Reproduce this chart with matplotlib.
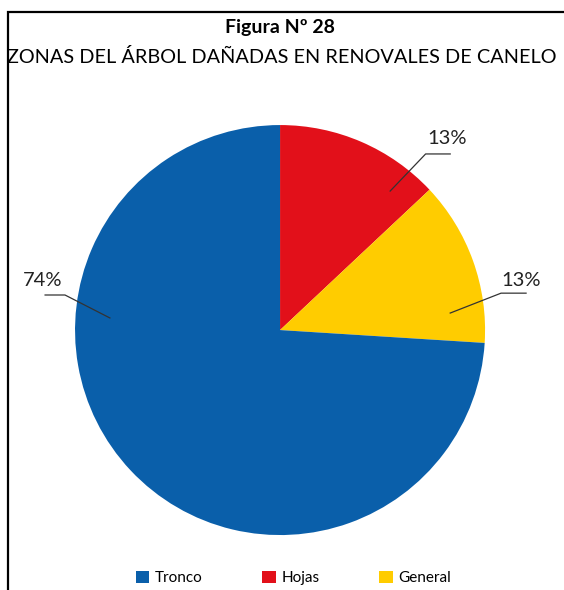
import matplotlib.pyplot as plt
from matplotlib.patches import Rectangle

labels = ['Hojas', 'General', 'Tronco']
values = [13, 13, 74]
colors = ['#E2101A', '#FFCC00', '#0A5FAA']
legend_order = ['Tronco', 'Hojas', 'General']

# label text position, elbow, inner point, line end (pie radius = 1)
label_pos = {
    'Hojas': [(0.815, 0.935), (0.71, 0.859), (0.537, 0.678), (0.83, 0.859)],
    'General': [(1.175, 0.24), (1.078, 0.18), (0.83, 0.083), (1.2, 0.18)],
    'Tronco': [(-1.16, 0.24), (-1.049, 0.171), (-0.83, 0.059), (-1.146, 0.171)],
}

plt.rcParams['font.family'] = ['Lato', 'DejaVu Sans']

fig = plt.figure(figsize=(5.64, 5.9), dpi=100)
ax = fig.add_axes([0, 0, 1, 1])
wedges, _ = ax.pie(values, colors=colors, startangle=90, counterclock=False,
                   radius=1, center=(0, 0))
ax.set_xlim(-1.366, 1.385)
ax.set_ylim(-1.268, 1.61)
ax.set_aspect('auto')
ax.axis('off')

for lab, v in zip(labels, values):
    (tx, ty), (ex, ey), (ix, iy), (hx, hy) = label_pos[lab]
    ax.text(tx, ty, f'{v}%', ha='center', va='center', fontsize=14.5, color='#222222')
    ax.plot([hx, ex, ix], [hy, ey, iy], color='#333333', lw=0.9)

# border
fig.patches.append(Rectangle((8 / 564, -0.05), 1.2, 1 - 12 / 590 + 0.05,
                             transform=fig.transFigure, fill=False,
                             edgecolor='black', lw=1.6))

fig.text(0.497, 1 - 27 / 590, 'Figura Nº 28', ha='center', va='center',
         fontsize=14, fontweight='bold')
fig.text(0.5, 1 - 57 / 590, 'ZONAS DEL ÁRBOL DAÑADAS EN RENOVALES DE CANELO',
         ha='center', va='center', fontsize=14.3)

handles = [wedges[labels.index(n)] for n in legend_order]
fig.legend(handles, legend_order, loc='center', bbox_to_anchor=(0.52, 1 - 578 / 590),
           ncol=3, frameon=False, fontsize=11, handlelength=0.9, handleheight=0.9,
           columnspacing=3.9, handletextpad=0.35)

fig.savefig('out.png', dpi=100)
